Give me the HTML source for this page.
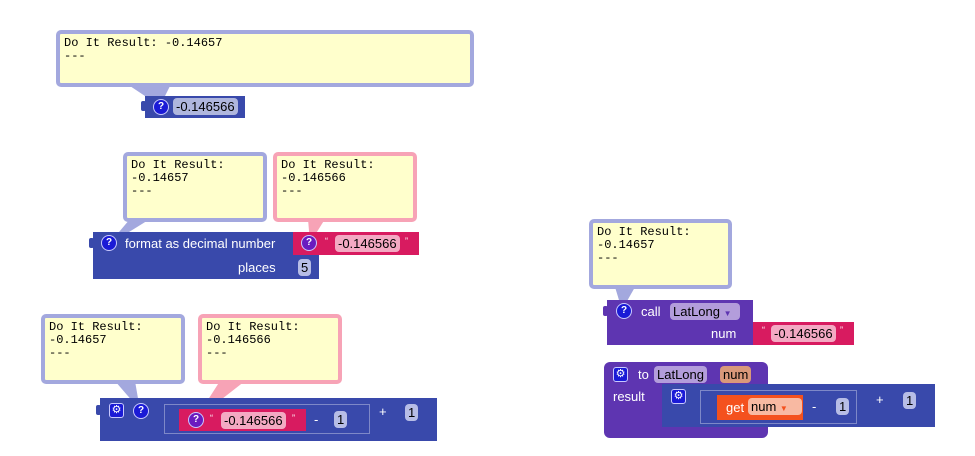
<!DOCTYPE html>
<html><head><style>
body{margin:0;width:975px;height:456px;background:#fff;position:relative;overflow:hidden;font-family:"Liberation Sans",sans-serif}
div{position:absolute;box-sizing:border-box}
.bub{background:#ffffcc;border:4px solid #a3a8de;border-radius:5px;font-family:"Liberation Mono",monospace;font-size:12px;line-height:13px;padding:3px 4px;color:#000;white-space:pre}
.pk{border-color:#f7a3b6}
.blue{background:#3949ab}
.pink{background:#d81b60}
.pur{background:#5e35b1}
.org{background:#f4511e}
.q{width:16px;height:16px;border-radius:50%;background:#1a1ad6;border:1px solid #c8c8ff;color:#fff;font-size:10px;font-weight:bold;text-align:center;line-height:14px}
.qp{background:#6a1bc0}
.g{width:15px;height:15px;border-radius:3px;background:#1a1ad6;border:1px solid #c8c8ff;color:#fff;font-size:11px;text-align:center;line-height:13px}
.fld{border-radius:4px;background:rgba(255,255,255,.6);color:#000;font-size:13px;line-height:17px;padding:0 3px;height:17px}
.t{color:#fff;font-size:13px;line-height:17px}
.nub{width:5px;height:10px;border-radius:2px}
.out{border:1px solid rgba(255,255,255,.35)}
</style></head><body>
<svg style="position:absolute;left:0;top:0" width="975" height="456">
<polygon points="130,86 170,86 160,106" fill="#a3a8de"/>
<polygon points="130,219 150,219 108,245" fill="#a3a8de"/>
<polygon points="308,219 325,219 310,243" fill="#f7a3b6"/>
<polygon points="115,381 135,381 140,410" fill="#a3a8de"/>
<polygon points="220,381 245,381 195,420" fill="#f7a3b6"/>
<polygon points="615,287 635,287 622,310" fill="#a3a8de"/>
</svg>
<div class="bub" style="left:56px;top:30px;width:418px;height:57px">Do It Result: -0.14657
---</div>
<div class="blue" style="left:145px;top:96px;width:100px;height:22px"></div>
<div class="blue nub" style="left:141px;top:101px"></div>
<div class="q" style="left:153px;top:99px">?</div>
<div class="fld" style="left:173px;top:98px">-0.146566</div>

<div class="bub" style="left:123px;top:152px;width:144px;height:70px">Do It Result:
-0.14657
---</div>
<div class="bub pk" style="left:273px;top:152px;width:144px;height:70px">Do It Result:
-0.146566
---</div>
<div class="blue" style="left:93px;top:232px;width:200px;height:23px"></div>
<div class="blue" style="left:93px;top:255px;width:226px;height:24px"></div>
<div class="blue nub" style="left:89px;top:238px"></div>
<div class="q" style="left:101px;top:235px">?</div>
<div class="t" style="left:125px;top:235px">format as decimal number</div>
<div class="t" style="left:238px;top:259px">places</div>
<div class="fld" style="left:298px;top:259px;background:#b7bde6">5</div>
<div class="pink" style="left:293px;top:232px;width:126px;height:23px"></div>
<div class="q qp" style="left:301px;top:235px">?</div>
<div class="t" style="left:325px;top:233px;font-size:9px">“</div>
<div class="fld" style="left:335px;top:235px;background:#f3a9c3">-0.146566</div>
<div class="t" style="left:405px;top:233px;font-size:9px">”</div>

<div class="bub" style="left:41px;top:314px;width:144px;height:70px">Do It Result:
-0.14657
---</div>
<div class="bub pk" style="left:198px;top:314px;width:144px;height:70px">Do It Result:
-0.146566
---</div>
<div class="blue" style="left:100px;top:398px;width:337px;height:43px"></div>
<div class="blue nub" style="left:96px;top:405px"></div>
<div class="g" style="left:109px;top:403px">⚙</div>
<div class="q" style="left:133px;top:403px">?</div>
<div class="out" style="left:164px;top:404px;width:206px;height:30px"></div>
<div class="pink" style="left:179px;top:409px;width:127px;height:22px"></div>
<div class="q qp" style="left:188px;top:412px">?</div>
<div class="t" style="left:210px;top:410px;font-size:9px">“</div>
<div class="fld" style="left:221px;top:412px;background:#f3a9c3">-0.146566</div>
<div class="t" style="left:292px;top:410px;font-size:9px">”</div>
<div class="t" style="left:314px;top:411px">-</div>
<div class="fld" style="left:334px;top:411px;background:#b7bde6">1</div>
<div class="t" style="left:379px;top:403px">+</div>
<div class="fld" style="left:405px;top:404px;background:#b7bde6">1</div>

<div class="bub" style="left:589px;top:219px;width:143px;height:70px">Do It Result:
-0.14657
---</div>
<div class="pur" style="left:607px;top:300px;width:146px;height:45px"></div>
<div class="pur nub" style="left:603px;top:306px"></div>
<div class="q" style="left:616px;top:303px">?</div>
<div class="t" style="left:641px;top:303px">call</div>
<div class="fld" style="left:670px;top:303px;background:#b39ddb;width:70px">LatLong <span style="font-size:8px;color:#5e35b1">▼</span></div>
<div class="t" style="left:711px;top:325px">num</div>
<div class="pink" style="left:753px;top:322px;width:101px;height:23px"></div>
<div class="t" style="left:762px;top:322px;font-size:9px">“</div>
<div class="fld" style="left:771px;top:325px;background:#f3a9c3">-0.146566</div>
<div class="t" style="left:840px;top:322px;font-size:9px">”</div>

<div class="pur" style="left:604px;top:362px;width:164px;height:76px;border-radius:6px"></div>
<div class="g" style="left:613px;top:367px">⚙</div>
<div class="t" style="left:638px;top:366px">to</div>
<div class="fld" style="left:654px;top:366px;background:#b39ddb">LatLong</div>
<div class="fld" style="left:720px;top:366px;background:#d9987a">num</div>
<div class="t" style="left:613px;top:388px">result</div>
<div class="blue" style="left:662px;top:384px;width:273px;height:43px"></div>
<div class="g" style="left:671px;top:389px">⚙</div>
<div class="out" style="left:700px;top:390px;width:157px;height:34px"></div>
<div class="org" style="left:717px;top:395px;width:86px;height:25px"></div>
<div class="t" style="left:726px;top:399px">get</div>
<div class="fld" style="left:748px;top:398px;background:#f8b9a2;width:54px">num <span style="font-size:8px;color:#f4511e">▼</span></div>
<div class="t" style="left:812px;top:398px">-</div>
<div class="fld" style="left:836px;top:398px;background:#b7bde6">1</div>
<div class="t" style="left:876px;top:391px">+</div>
<div class="fld" style="left:903px;top:392px;background:#b7bde6">1</div>
</body></html>
